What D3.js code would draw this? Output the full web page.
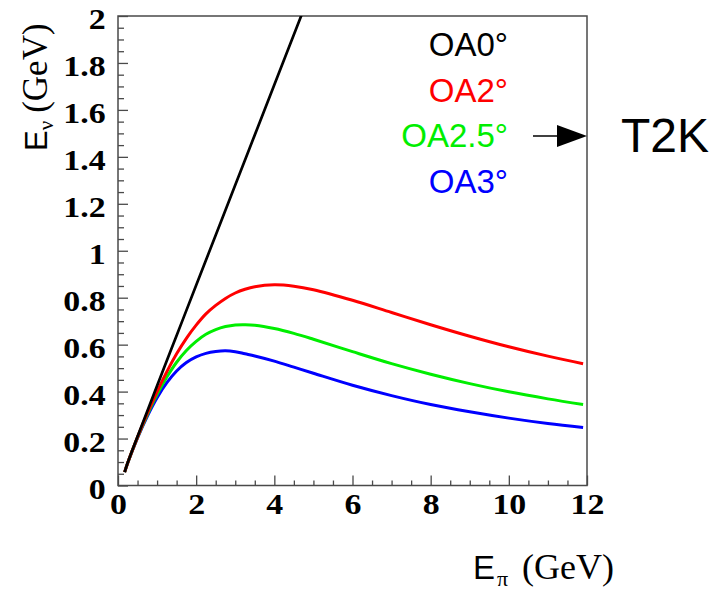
<!DOCTYPE html>
<html>
<head>
<meta charset="utf-8">
<script src="https://cdn.jsdelivr.net/npm/d3@7"></script>
<style>
  html, body { margin: 0; padding: 0; background: #fff; }
  svg { display: block; }
</style>
</head>
<body>
<svg id="chart" width="727" height="590"></svg>
<script>
// Neutrino energy vs. parent pion energy for several off-axis angles
const pionEnergy = [0.17, 0.25, 0.5, 0.75, 1, 1.25, 1.5, 1.75, 2, 2.25, 2.5, 2.75, 3, 3.25, 3.5, 4, 4.5, 5, 6, 7, 8, 9, 10, 11, 11.9];
const oa2   = [0.057, 0.097, 0.206, 0.307, 0.400, 0.485, 0.561, 0.627, 0.683, 0.731, 0.767, 0.797, 0.820, 0.836, 0.847, 0.855, 0.849, 0.834, 0.789, 0.737, 0.685, 0.636, 0.591, 0.551, 0.519];
const oa25  = [0.057, 0.097, 0.205, 0.301, 0.388, 0.462, 0.525, 0.575, 0.614, 0.644, 0.664, 0.677, 0.684, 0.685, 0.683, 0.669, 0.648, 0.623, 0.570, 0.519, 0.474, 0.434, 0.399, 0.369, 0.345];
const oa3   = [0.057, 0.097, 0.203, 0.295, 0.374, 0.438, 0.488, 0.524, 0.548, 0.563, 0.571, 0.574, 0.570, 0.561, 0.552, 0.530, 0.504, 0.478, 0.427, 0.383, 0.345, 0.314, 0.287, 0.264, 0.247];

// On-axis curve (leaves the frame at 2 GeV)
const onAxisPion = [0.17, 0.25, 0.5, 1, 1.5, 2, 3, 4, 4.7];
const oa0        = [0.057, 0.098, 0.209, 0.425, 0.639, 0.853, 1.280, 1.707, 2.006];

const legendLabels = ["OA0°", "OA2°", "OA2.5°", "OA3°"];
const seriesColors = ["#000000", "#ff0000", "#00ee00", "#0000ff"];

const xMajorTicks = [0, 2, 4, 6, 8, 10, 12];
const yMajorTicks = [0, 0.2, 0.4, 0.6, 0.8, 1, 1.2, 1.4, 1.6, 1.8, 2];

const svg = d3.select("#chart");
const frame = { left: 118, right: 587, top: 16, bottom: 485.5 };

const x = d3.scaleLinear().domain([0, 12]).range([frame.left, frame.right]);
const y = d3.scaleLinear().domain([0, 2]).range([frame.bottom, frame.top]);

const axisColor = "#4a4a4a";
const serif = "'Liberation Serif', 'Times New Roman', serif";
const sans = "'Liberation Sans', Arial, sans-serif";

// minor ticks
const xMinor = d3.range(0, 12.001, 0.5).filter(v => Math.abs(v / 2 - Math.round(v / 2)) > 1e-6);
const yMinor = d3.range(0, 2.001, 0.05).filter(v => Math.abs(v / 0.2 - Math.round(v / 0.2)) > 1e-6);

svg.append("g").attr("transform", `translate(0,${frame.bottom})`)
  .call(d3.axisBottom(x).tickValues(xMinor).tickSize(-5).tickFormat(""))
  .call(g => g.select(".domain").remove());
svg.append("g").attr("transform", `translate(${frame.left},0)`)
  .call(d3.axisLeft(y).tickValues(yMinor).tickSize(-6).tickFormat(""))
  .call(g => g.select(".domain").remove());

const xAxis = svg.append("g").attr("transform", `translate(0,${frame.bottom})`)
  .call(d3.axisBottom(x).tickValues(xMajorTicks).tickSize(-10).tickPadding(7).tickFormat(d3.format("d")))
  .call(g => g.select(".domain").remove());
const yAxis = svg.append("g").attr("transform", `translate(${frame.left},0)`)
  .call(d3.axisLeft(y).tickValues(yMajorTicks).tickSize(-10).tickPadding(11).tickFormat(d => String(+d.toFixed(1))))
  .call(g => g.select(".domain").remove());

svg.selectAll(".tick line").attr("stroke", axisColor).attr("stroke-width", 1.3);
[xAxis, yAxis].forEach(a => a.selectAll("text")
  .attr("font-family", serif).attr("font-weight", "bold").attr("font-size", 30).attr("fill", "#000")
  .attr("transform", "scale(1.13,1)"));
yAxis.selectAll("text").attr("dy", "0.42em");

// frame
svg.append("rect")
  .attr("x", frame.left).attr("y", frame.top)
  .attr("width", frame.right - frame.left).attr("height", frame.bottom - frame.top)
  .attr("fill", "none").attr("stroke", axisColor).attr("stroke-width", 1.5);

// curves
svg.append("clipPath").attr("id", "plot-clip")
  .append("rect").attr("x", frame.left).attr("y", frame.top)
  .attr("width", frame.right - frame.left).attr("height", frame.bottom - frame.top);

const line = d3.line().x(d => x(d[0])).y(d => y(d[1])).curve(d3.curveCatmullRom.alpha(0.5));
const curves = [
  { xs: pionEnergy, ys: oa3, color: seriesColors[3], w: 3 },
  { xs: pionEnergy, ys: oa25, color: seriesColors[2], w: 3 },
  { xs: pionEnergy, ys: oa2, color: seriesColors[1], w: 3 },
  { xs: onAxisPion, ys: oa0, color: seriesColors[0], w: 2.7 }
];
const plot = svg.append("g").attr("clip-path", "url(#plot-clip)");
curves.forEach(c => {
  plot.append("path")
    .datum(c.xs.map((v, i) => [v, c.ys[i]]))
    .attr("d", line)
    .attr("fill", "none")
    .attr("stroke", c.color)
    .attr("stroke-width", c.w)
    .attr("stroke-linejoin", "round");
});

// legend
const legendY = [56, 102, 147, 193];
svg.append("g").selectAll("text").data(legendLabels).join("text")
  .attr("x", 508).attr("y", (d, i) => legendY[i])
  .attr("text-anchor", "end")
  .attr("font-family", sans)
  .attr("font-size", 33)
  .attr("fill", (d, i) => seriesColors[i])
  .text(d => d);

// arrow pointing to T2K
svg.append("line").attr("x1", 533).attr("x2", 558).attr("y1", 136).attr("y2", 136)
  .attr("stroke", "#000").attr("stroke-width", 1.5);
svg.append("path").attr("d", "M557,125 L587,136 L557,147 Z").attr("fill", "#000");
svg.append("text").attr("x", 621).attr("y", 152)
  .attr("font-family", sans).attr("font-size", 48)
  .attr("fill", "#000").text("T2K");

// axis titles
const xt = svg.append("text").attr("x", 473).attr("y", 579).attr("fill", "#000");
xt.append("tspan").attr("font-family", sans).attr("font-size", 33).text("E");
xt.append("tspan").attr("font-family", serif).attr("font-size", 22)
  .attr("dx", 2).attr("dy", 7).text("π");
xt.append("tspan").attr("font-family", serif).attr("font-size", 36)
  .attr("dy", -7).attr("x", 522).text("(GeV)");

const yt = svg.append("text").attr("transform", "translate(47,151) rotate(-90)").attr("fill", "#000");
yt.append("tspan").attr("font-family", sans).attr("font-size", 31).text("E");
yt.append("tspan").attr("font-family", serif).attr("font-size", 21)
  .attr("dy", 6).text("ν");
yt.append("tspan").attr("font-family", serif).attr("font-size", 35)
  .attr("dy", -6).attr("dx", 8).text("(GeV)");
</script>
</body>
</html>
